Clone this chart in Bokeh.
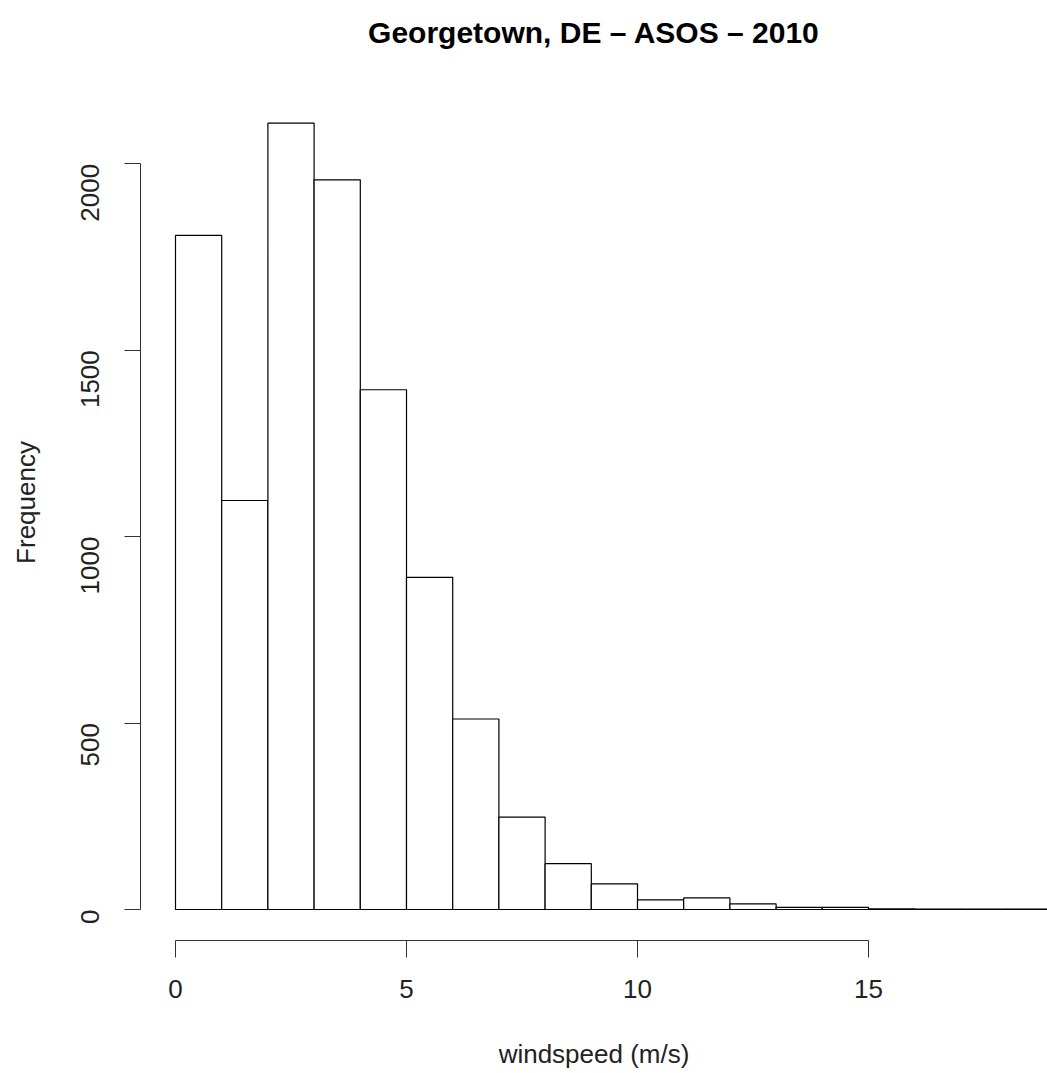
from bokeh.plotting import figure
from bokeh.models import Range1d, FixedTicker
from bokeh.embed import file_html
from bokeh.resources import INLINE
import math

bin_left = list(range(0, 19))
bin_right = [b + 1 for b in bin_left]
counts = [1808, 1097, 2109, 1957, 1394, 891, 511, 248, 123, 69, 26, 31, 15, 6, 6, 2, 1, 1, 1]
x_ticks = [0, 5, 10, 15]
y_ticks = [0, 500, 1000, 1500, 2000]

FONT = "Liberation Sans"

p = figure(width=1047, height=1073, output_backend="svg", toolbar_location=None,
           x_range=Range1d(-0.7576, 18.874), y_range=Range1d(-83.1, 2266.3),
           min_border_left=140, min_border_right=0, min_border_top=64, min_border_bottom=133,
           title="Georgetown, DE \u2013 ASOS \u2013 2010")

p.quad(left=bin_left, right=bin_right, bottom=0, top=counts,
       fill_color="white", line_color="black", line_width=1.2)

p.background_fill_color = "white"
p.border_fill_color = "white"
p.outline_line_color = None
p.xgrid.visible = False
p.ygrid.visible = False

p.title.align = "center"
p.title.vertical_align = "top"
p.title.text_font = FONT
p.title.text_font_size = "30px"
p.title.text_font_style = "bold"
p.title.text_color = "black"
p.title.standoff = 28

xa = p.xaxis[0]
xa.ticker = FixedTicker(ticks=x_ticks)
xa.bounds = (0, 15)
xa.minor_tick_line_color = None
xa.major_tick_in = 0
xa.major_tick_out = 17
xa.major_label_standoff = 22
xa.major_label_text_font = FONT
xa.major_label_text_font_size = "26px"
xa.major_label_text_color = "#222222"
xa.axis_label = "windspeed (m/s)"
xa.axis_label_text_font = FONT
xa.axis_label_text_font_size = "26px"
xa.axis_label_text_font_style = "normal"
xa.axis_label_text_color = "#222222"
xa.axis_label_standoff = 38
xa.axis_line_color = "#333333"
xa.major_tick_line_color = "#333333"

ya = p.yaxis[0]
ya.ticker = FixedTicker(ticks=y_ticks)
ya.bounds = (0, 2000)
ya.minor_tick_line_color = None
ya.major_tick_in = 0
ya.major_tick_out = 16
ya.major_label_standoff = 34
ya.major_label_orientation = math.pi / 2
ya.major_label_text_font = FONT
ya.major_label_text_font_size = "26px"
ya.major_label_text_color = "#222222"
ya.axis_label = "Frequency"
ya.axis_label_text_font = FONT
ya.axis_label_text_font_size = "26px"
ya.axis_label_text_font_style = "normal"
ya.axis_label_text_color = "#222222"
ya.axis_label_standoff = 29
ya.axis_line_color = "#333333"
ya.major_tick_line_color = "#333333"

open("out.html", "w").write(file_html(p, INLINE))
